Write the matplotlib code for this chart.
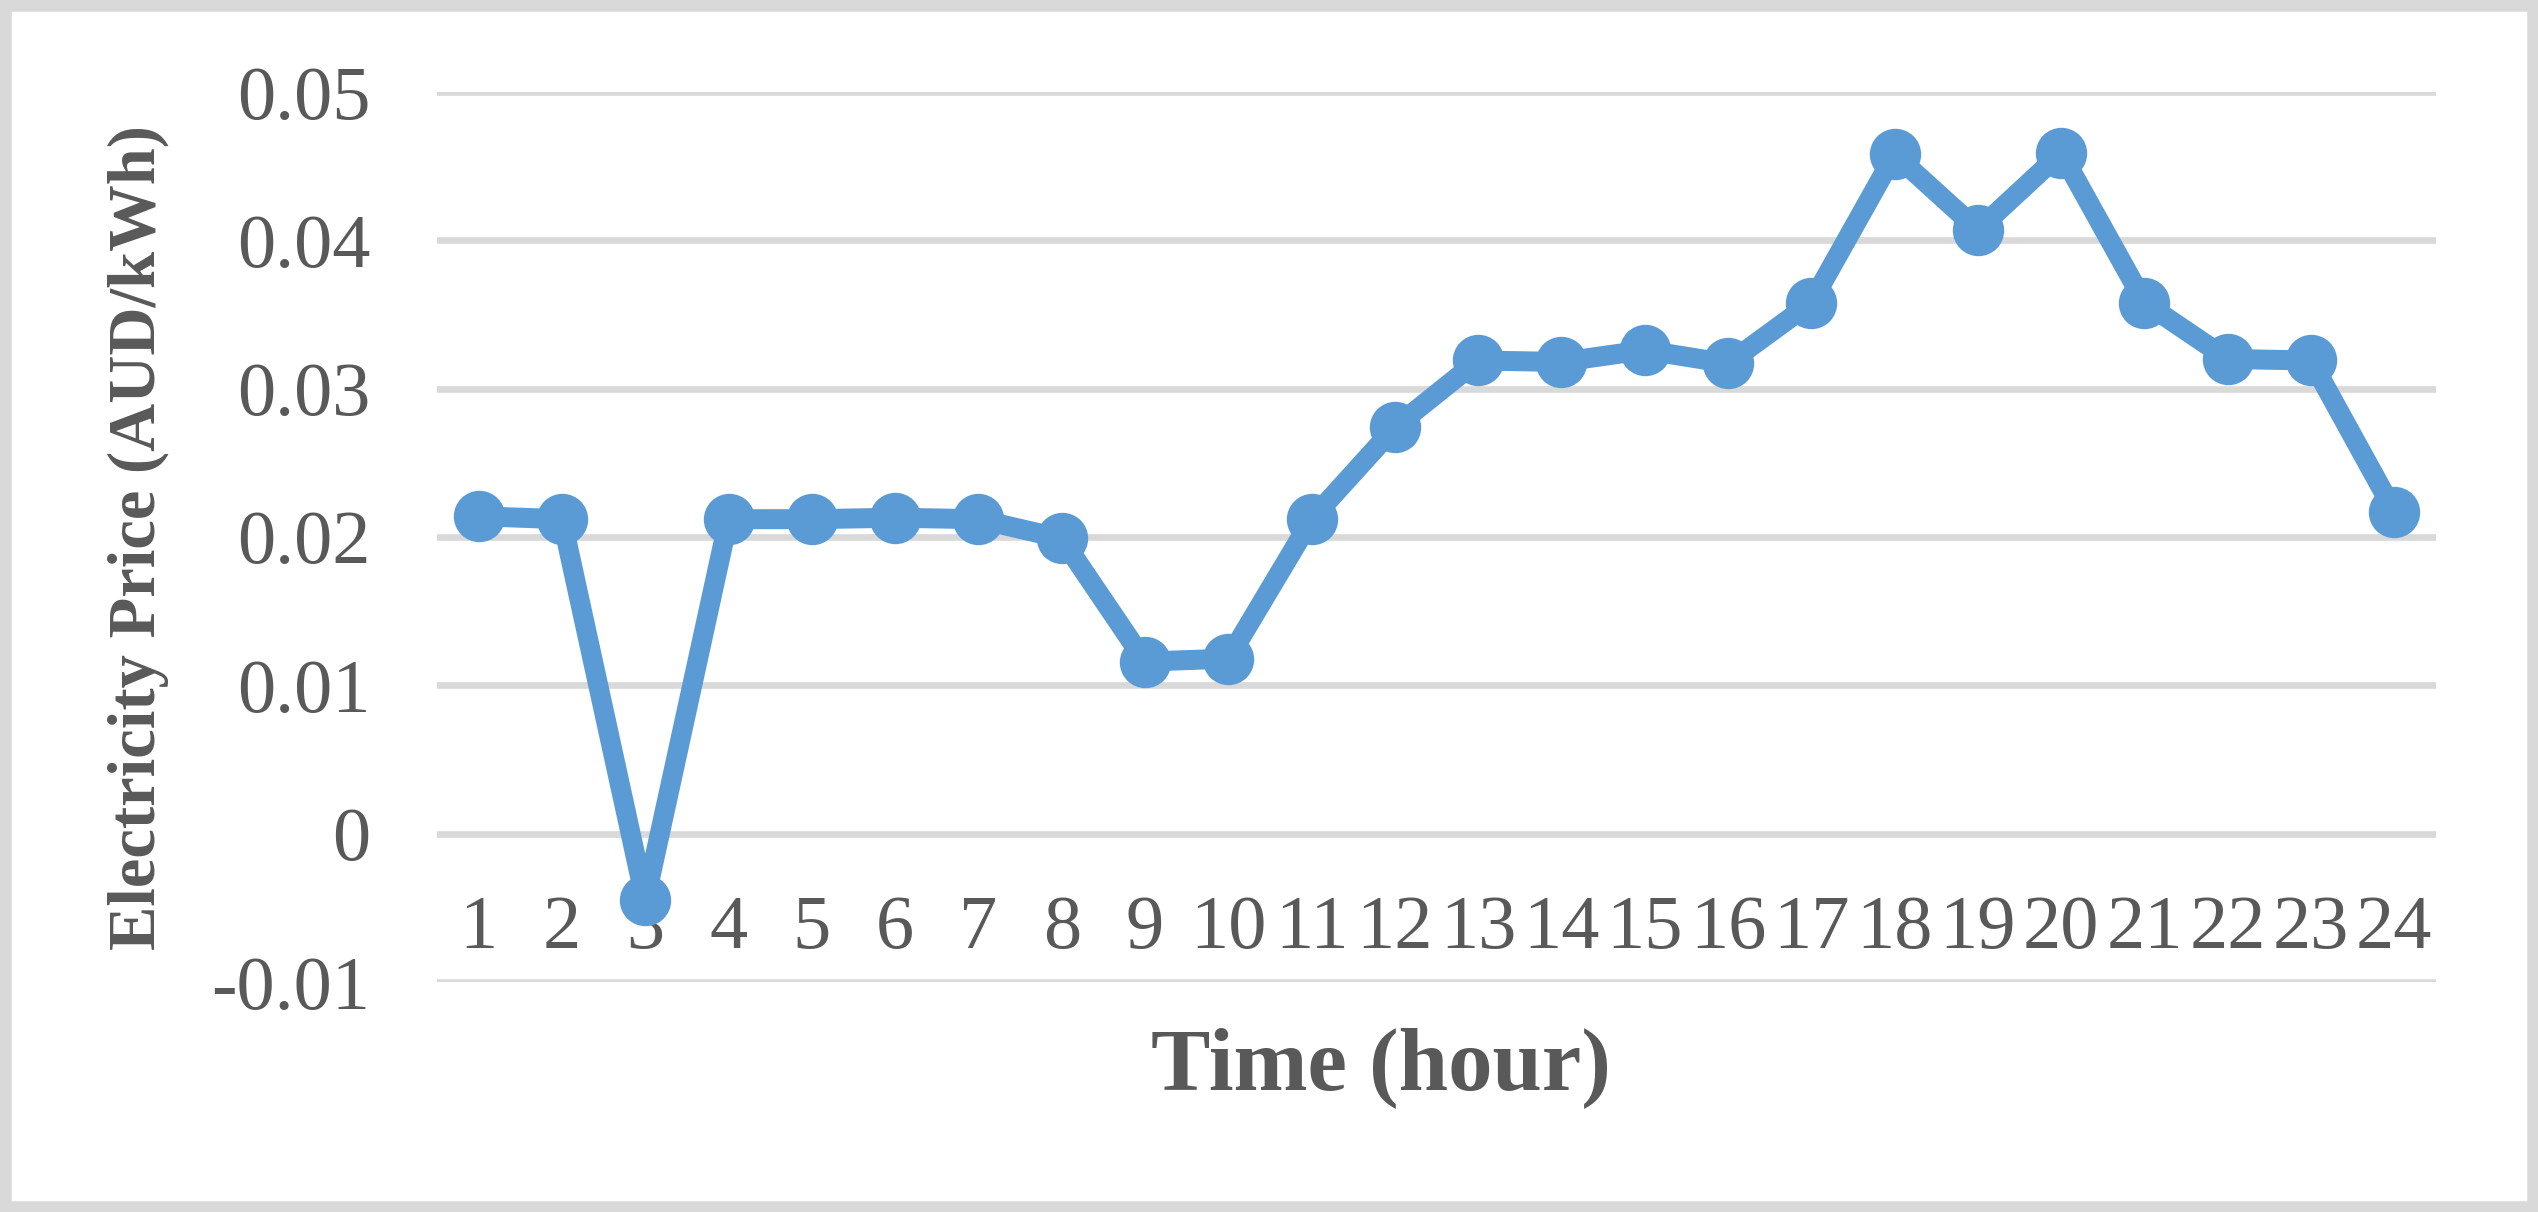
import matplotlib.pyplot as plt
from matplotlib.patches import Rectangle

hours = list(range(1, 25))
price = [0.0214, 0.0212, -0.0045, 0.0212, 0.0212, 0.0213, 0.0212, 0.0199,
         0.0116, 0.0118, 0.0212, 0.0274, 0.0319, 0.0318, 0.0326, 0.0317,
         0.0358, 0.0458, 0.0407, 0.0459, 0.0358, 0.0320, 0.0319, 0.0217]
yticks = [-0.01, 0, 0.01, 0.02, 0.03, 0.04, 0.05]
ytick_labels = ["-0.01", "0", "0.01", "0.02", "0.03", "0.04", "0.05"]

plt.rcParams["font.family"] = ["Liberation Serif", "DejaVu Serif"]
text_col = "#595959"
grid_col = "#D9D9D9"
blue = "#5B9BD5"

W, H = 2538, 1212
fig = plt.figure(figsize=(W / 200, H / 200), dpi=200)
ax = fig.add_axes([437 / W, 1 - 982 / H, (2436 - 437) / W, (982 - 92) / H])

ax.plot(hours, price, color=blue, lw=7.2, marker="o", ms=17.5,
        solid_joinstyle="round", zorder=3)

ax.set_xlim(0.5, 24.5)
ax.set_ylim(-0.01, 0.05)
ax.set_yticks(yticks)
ax.set_yticklabels(ytick_labels)
ax.set_xticks(hours)
ax.set_xticklabels([str(h) for h in hours])
ax.grid(axis="y", color=grid_col, lw=2.4)
ax.set_axisbelow(True)
for s in ax.spines.values():
    s.set_visible(False)
ax.spines["bottom"].set_position(("data", 0))
ax.tick_params(axis="both", length=0, labelsize=27.5, colors=text_col)
ax.tick_params(axis="x", pad=22)
ax.tick_params(axis="y", pad=24)

fig.text(1381 / W, 1 - 1068 / H, "Time (hour)", ha="center", va="center",
         fontsize=32, fontweight="bold", color=text_col)
fig.text(138 / W, 1 - 538 / H, "Electricity Price (AUD/kWh)", ha="center",
         va="center", rotation=90, fontsize=24, fontweight="bold", color=text_col)

fig.patches.append(Rectangle((5 / W, 5 / H), 1 - 10 / W, 1 - 10 / H, transform=fig.transFigure,
                             fill=False, edgecolor=grid_col, lw=4.5))

fig.savefig("out.png", dpi=200, facecolor="white")
